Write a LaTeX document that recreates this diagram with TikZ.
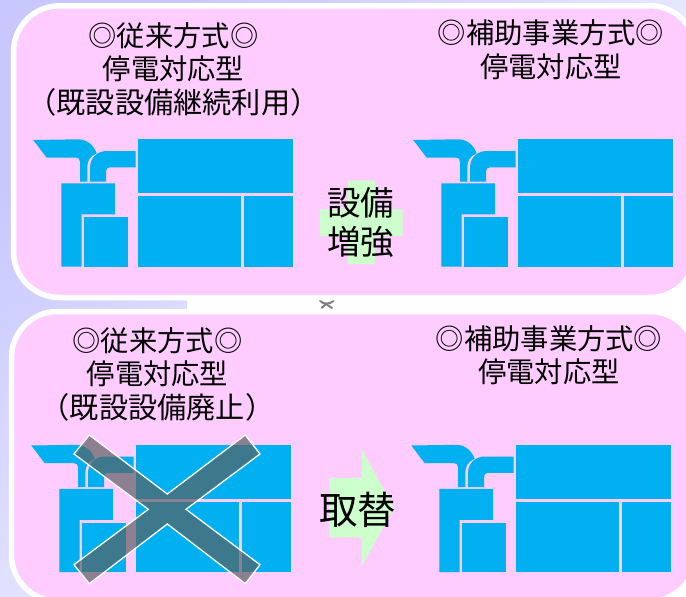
\documentclass[tikz,border=0pt]{standalone}
\usepackage{fontspec}
\newfontfamily\jpfont{Noto Sans CJK JP}
\definecolor{panelpink}{RGB}{255,204,255}
\definecolor{plantblue}{RGB}{0,176,240}
\definecolor{mintgreen}{RGB}{204,255,204}
\definecolor{crossgrey}{RGB}{90,95,97}
\definecolor{lavtop}{RGB}{200,200,255}
\tikzset{
  panel/.style={fill=panelpink,draw=white,line width=5.5pt,rounded corners=46pt},
  part/.style={fill=plantblue},
  title/.style={font=\jpfont\fontsize{28.3}{33.5}\selectfont,align=center,inner sep=0pt,text=black},
  bigtext/.style={font=\jpfont\fontsize{33.5}{39.5}\selectfont,align=center,inner sep=0pt,text=black},
  plant/.pic={
    \path[part] (33.3,140) -- (78,139.3) .. controls (88,139.3) and (94,146) .. (96.7,153.3)
      .. controls (90,156) and (87.3,161) .. (87.3,167) -- (87.3,181.7) -- (80,181.7) -- (80,162)
      .. controls (80,159) and (78.5,157.7) .. (76,157.7) -- (46.7,157.7) -- cycle;
    \path[part] (90,181.7) -- (90,168) .. controls (90,157) and (98,151) .. (107,151) -- (135.7,151)
      -- (135.7,167.3) -- (110,167.3) .. controls (107.5,167.3) and (106,169) .. (106,171.7) -- (106,181.7) -- cycle;
    \path[part] (61.3,183.3) -- (115,183.3) -- (115,214.3) -- (81.7,214.3) -- (81.7,266.7) -- (61.3,266.7) -- cycle;
    \path[part] (83.7,217) rectangle (128,266.7);
    \path[part] (138,139.3) rectangle (293.3,193);
    \path[part] (138,196) rectangle (241,266.7);
    \path[part] (243.7,196) rectangle (293.3,266.7);
  }
}
\begin{document}
\begin{tikzpicture}[x=1pt,y=-1pt]
\useasboundingbox (0,0) rectangle (686,597);
\clip (0,0) rectangle (686,597);
% backdrop
\shade[top color=lavtop,bottom color=white,shading angle=45] (0,0) rectangle (686,597);
\fill[white] (187,297) rectangle (686,313);
\fill[white] (600,250) rectangle (686,350);
\fill[white] (600,560) rectangle (686,597);
% grey fragment between the panels
\draw[gray,line width=2pt,line cap=round] (320,300.8) .. controls (323,304.5) and (330,304.5) .. (333.5,300.8);
\draw[gray,line width=2pt,line cap=round] (321.5,308) -- (326,304) -- (332,308);
% panels
\draw[panel] (13.5,5.8) rectangle (696,297.5);
\draw[panel] (11.5,311.5) rectangle (696,601);
% plants
\pic at (0,0) {plant};
\pic at (380,0) {plant};
\pic at (-2,305.5) {plant};
\pic at (378,305.5) {plant};
% green cross and arrow
\fill[mintgreen] (348,180.7) -- (375,180.7) -- (375,209.3) -- (402.7,209.3) -- (402.7,236) -- (375,236) -- (375,264) -- (348,264) -- (348,236) -- (320,236) -- (320,209.3) -- (348,209.3) -- cycle;
\fill[mintgreen] (329.3,478) -- (361.7,478) -- (361.7,449.5) -- (394,507.7) -- (361.7,566) -- (361.7,537.3) -- (329.3,537.3) -- cycle;
% crossing mark
\path[fill=crossgrey,fill opacity=.69,draw=white,line width=1.3pt,line join=miter]
  (89.3,435) -- (167.3,494) -- (245.3,435) -- (260,454) -- (186,509.3) -- (260,564.7) -- (245.3,583.7) -- (167.3,524) -- (89.3,583.7) -- (74,564.7) -- (148.3,509.3) -- (74,454) -- cycle;
% text
\node[title] (t1) at (173.5,69) {◎従来方式◎\\停電対応型\\{\fontsize{29.2}{33.5}\selectfont （既設設備継続利用）}};
\node[title] (t2) at (551,49.5) {◎補助事業方式◎\\停電対応型};
\node[title] (t3) at (157.5,374) {◎従来方式◎\\停電対応型\\{\fontsize{29.2}{33.5}\selectfont （既設設備廃止）}};
\node[title] (t4) at (549,355) {◎補助事業方式◎\\停電対応型};
\node[bigtext] (t5) at (360.5,222.5) {設備\\増強};
\node[font=\jpfont\fontsize{38.5}{40}\selectfont,inner sep=0pt] (t6) at (357.5,510) {取替};
\end{tikzpicture}
\end{document}
